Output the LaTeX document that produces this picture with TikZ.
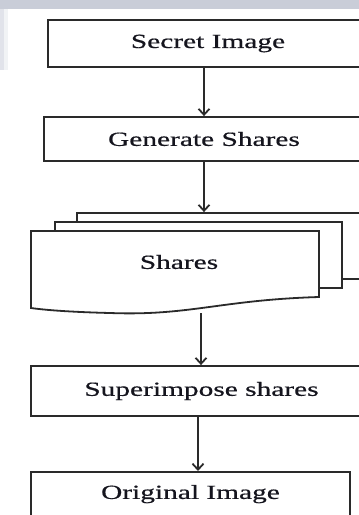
\documentclass[tikz,border=0pt]{standalone}
\usepackage{fontspec}
\newfontfamily\boxfont[FakeStretch=1.47,FakeBold=0.6]{Liberation Serif}
\usetikzlibrary{arrows.meta}
\definecolor{edge}{HTML}{2A2A2A}
\definecolor{bgstrip}{HTML}{C9CDD8}
\definecolor{txt}{HTML}{15151E}
\tikzset{
  box/.style={draw=edge, line width=1.8pt, fill=white, rectangle, inner sep=0pt,
    font=\boxfont\fontsize{20}{24}\selectfont, text=txt},
  page/.style={draw=edge, line width=1.8pt, fill=white},
  arr/.style={draw=edge, line width=1.8pt, -{Straight Barb[length=6pt,width=11pt]}}
}
\begin{document}
\begin{tikzpicture}[x=1pt,y=-1pt]
\useasboundingbox (0,0) rectangle (359,515);
\clip (0,0) rectangle (359,515);
\fill[bgstrip] (0,0) rectangle (359,9);
\fill[bgstrip!55] (0,9) rectangle (4,70);
\fill[bgstrip!25] (4,9) rectangle (8,70);

% boxes
\node[box, minimum width=320pt, minimum height=47pt] (secret) at (208,43.5) {Secret Image};
\node[box, minimum width=320pt, minimum height=44pt] (gen) at (204,139) {Generate Shares};

% stacked shares
\node[box, minimum width=323pt, minimum height=66pt] (back) at (238.5,246) {};
\node[box, minimum width=287pt, minimum height=66pt] (mid) at (198.5,255) {};
\draw[page] (31,231) -- (319,231) -- (319,297)
  .. controls (220,300) and (190,316) .. (110,313)
  .. controls (70,312) and (45,310) .. (31,308) -- cycle;
\node[font=\boxfont\fontsize{20}{24}\selectfont, text=txt, inner sep=0pt] (shares) at (179,262) {Shares};

\node[box, minimum width=341pt, minimum height=50pt] (sup) at (201.5,391) {Superimpose shares};
\node[box, anchor=north, minimum width=319pt, text height=27pt, text depth=40pt] (orig) at (190.5,471) {Original Image};

% connectors
\coordinate (s3) at (201,313);
\draw[arr] (gen.north |- secret.south) -- (gen.north);
\draw[arr] (gen.south) -- (gen.south |- back.north);
\draw[arr] (s3) -- (s3 |- sup.north);
\draw[arr] ([xshift=-3.5pt]sup.south) -- ([xshift=-3.5pt]sup.south |- orig.north);
\end{tikzpicture}
\end{document}
